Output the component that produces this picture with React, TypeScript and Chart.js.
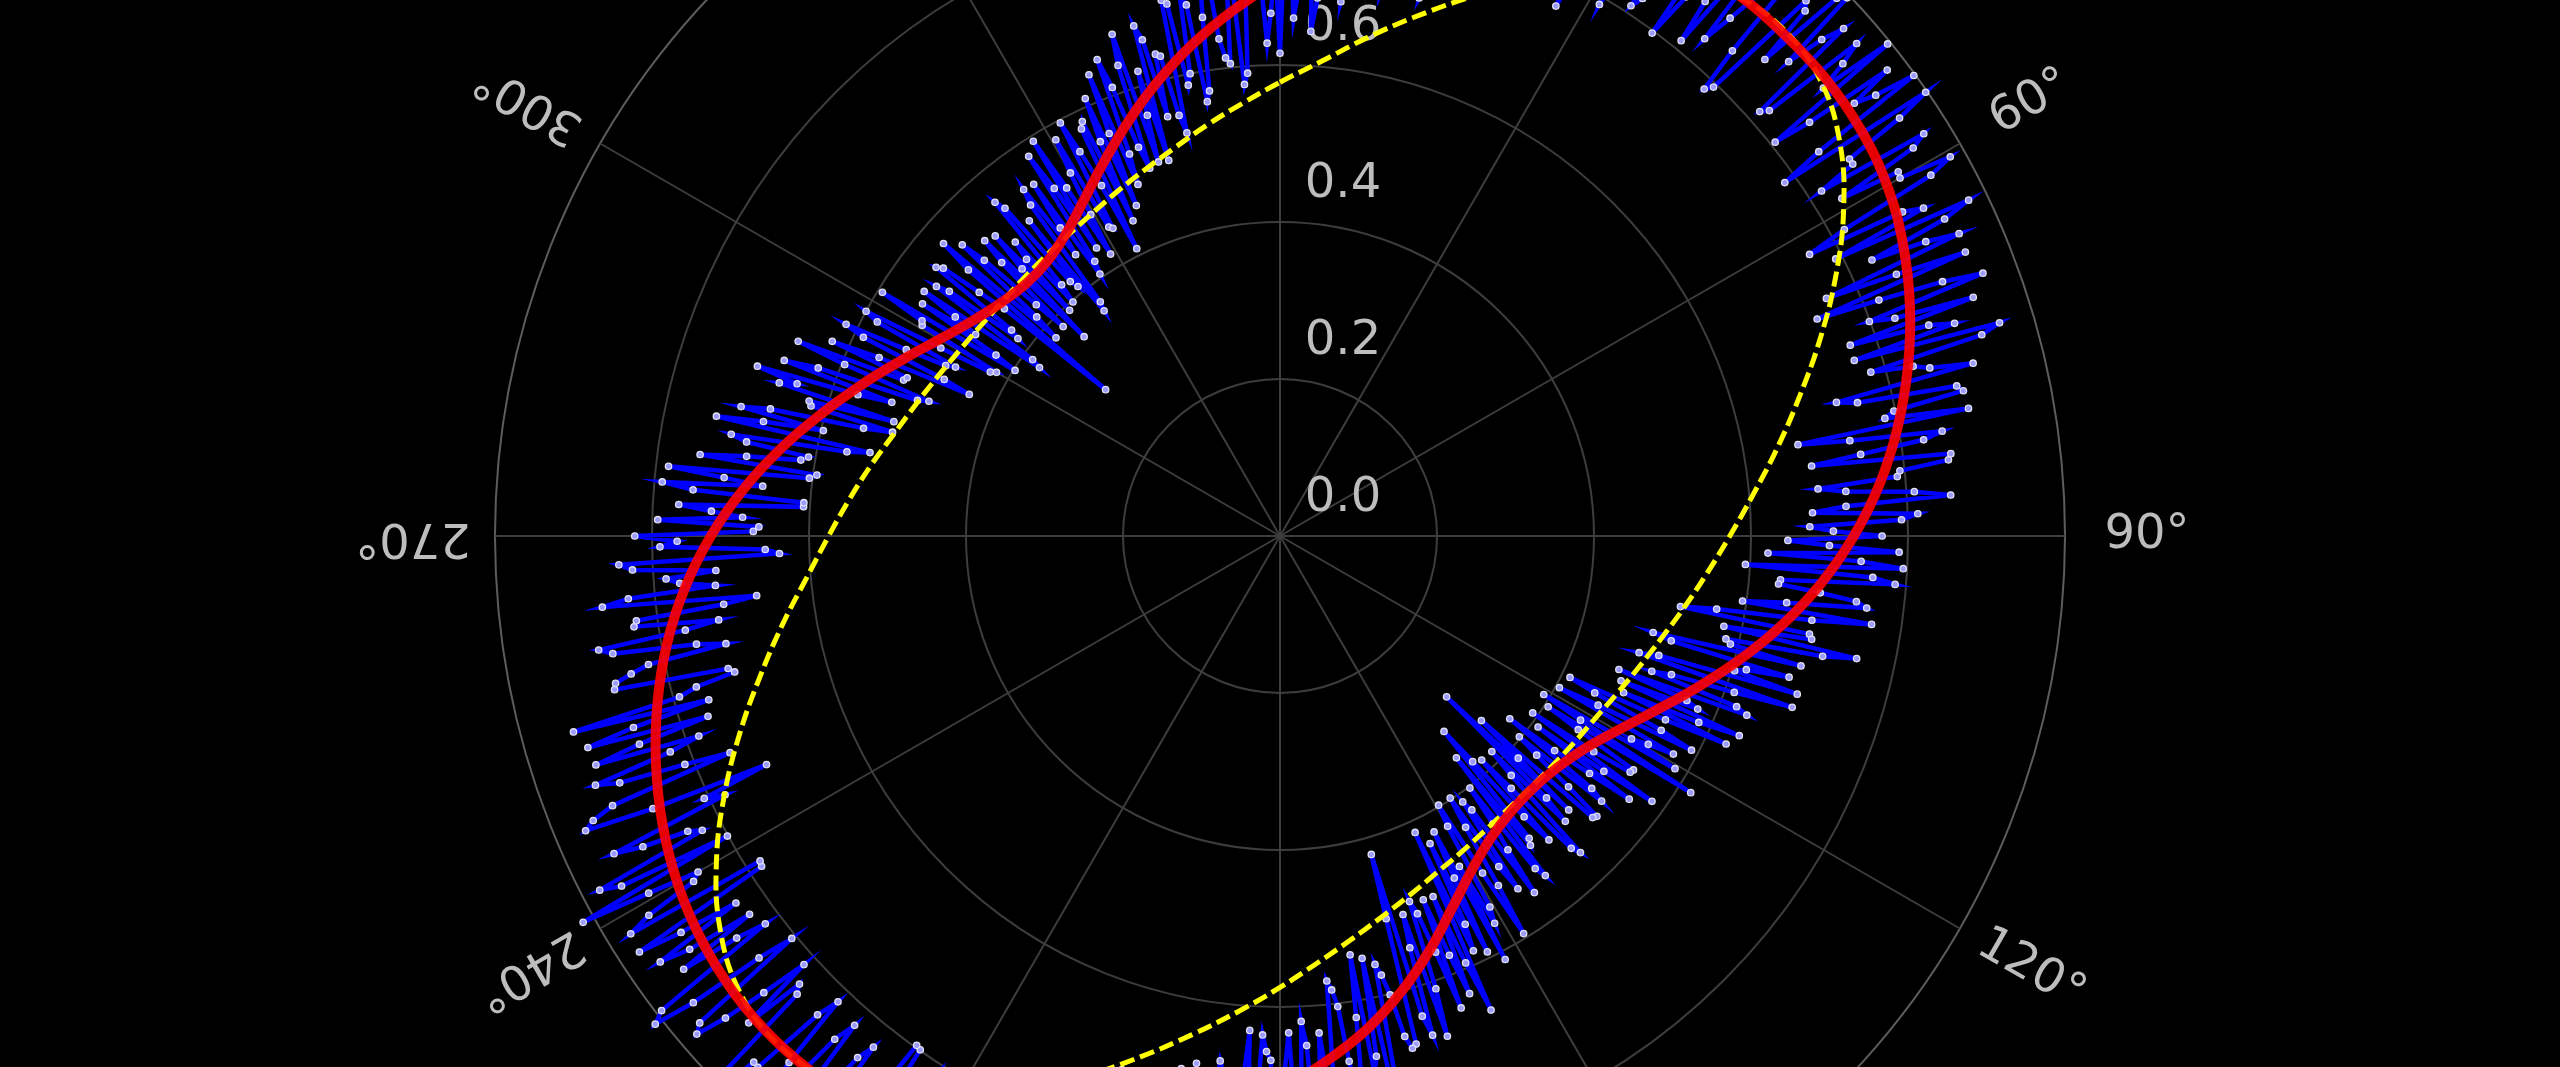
import React, { useEffect, useRef } from "react";
import { Chart, registerables } from "chart.js";

Chart.register(...registerables);

// ---- tick labels ----
const thetaTickValues = [0, 30, 60, 90, 120, 150, 180, 210, 240, 270, 300, 330];
const thetaTickLabels = ["0°", "30°", "60°", "90°", "120°", "150°", "180°", "210°", "240°", "270°", "300°", "330°"];
const radialTickValues = [0.0, 0.2, 0.4, 0.6, 0.8, 1.0];
const radialTickLabels = ["0.0", "0.2", "0.4", "0.6", "0.8", "1.0"];

// ---- angle categories: every half degree, clockwise from north ----
const thetaStepDeg = 0.5;
const thetaDegrees = Array.from({ length: 720 }, (_, i) => i * thetaStepDeg);

// ---- measured noisy radius at whole degrees (0°, 1°, ... 359°) ----
const measuredRWhole = [
  0.615, 0.763, 0.701, 0.819, 0.687, 0.775, 0.852, 0.719, 0.696, 0.843,
  0.82, 0.726, 0.902, 0.788, 0.864, 0.73, 0.836, 0.902, 0.798, 0.734,
  0.91, 0.874, 0.799, 0.953, 0.838, 0.792, 0.915, 0.988, 0.872, 0.835,
  0.968, 0.79, 0.922, 0.944, 0.826, 0.898, 0.999, 0.86, 0.921, 0.812,
  0.973, 0.874, 0.954, 0.845, 0.795, 0.946, 0.986, 0.886, 0.966, 0.826,
  0.936, 0.996, 0.856, 0.916, 0.998, 0.785, 0.952, 0.87, 0.967, 0.835,
  0.912, 0.948, 0.764, 0.92, 0.976, 0.832, 0.947, 0.853, 0.738, 0.904,
  0.799, 0.934, 0.869, 0.765, 0.93, 0.835, 0.91, 0.755, 0.89, 0.785,
  0.67, 0.854, 0.747, 0.861, 0.794, 0.688, 0.81, 0.722, 0.813, 0.675,
  0.767, 0.7, 0.622, 0.795, 0.757, 0.64, 0.692, 0.753, 0.595, 0.686,
  0.518, 0.69, 0.751, 0.583, 0.684, 0.516, 0.618, 0.689, 0.481, 0.612,
  0.504, 0.637, 0.559, 0.472, 0.584, 0.627, 0.411, 0.545, 0.459, 0.573,
  0.517, 0.392, 0.617, 0.453, 0.538, 0.393, 0.51, 0.557, 0.444, 0.511,
  0.398, 0.487, 0.536, 0.415, 0.295, 0.514, 0.424, 0.544, 0.384, 0.474,
  0.325, 0.507, 0.549, 0.402, 0.494, 0.426, 0.542, 0.398, 0.525, 0.501,
  0.427, 0.564, 0.611, 0.489, 0.436, 0.583, 0.661, 0.499, 0.576, 0.644,
  0.512, 0.61, 0.507, 0.665, 0.422, 0.67, 0.657, 0.574, 0.721, 0.548,
  0.695, 0.621, 0.737, 0.604, 0.57, 0.696, 0.753, 0.65, 0.786, 0.633,
  0.74, 0.668, 0.636, 0.794, 0.722, 0.84, 0.687, 0.805, 0.782, 0.68,
  0.857, 0.754, 0.9, 0.747, 0.843, 0.74, 0.876, 0.911, 0.807, 0.732,
  0.908, 0.872, 0.787, 0.951, 0.826, 0.92, 0.783, 0.977, 0.87, 0.924,
  0.807, 0.959, 0.922, 0.834, 0.987, 0.799, 0.92, 0.872, 0.983, 0.855,
  0.966, 0.826, 0.997, 0.917, 0.848, 0.948, 0.997, 0.837, 0.816, 0.936,
  0.965, 0.854, 1.01, 0.821, 0.939, 0.918, 0.836, 0.973, 0.781, 0.938,
  0.856, 1.015, 0.95, 0.826, 0.903, 0.78, 0.716, 0.961, 0.917, 0.812,
  0.928, 0.783, 0.858, 0.922, 0.757, 0.792, 0.716, 0.87, 0.845, 0.719,
  0.863, 0.767, 0.831, 0.714, 0.868, 0.722, 0.784, 0.826, 0.638, 0.79,
  0.822, 0.664, 0.685, 0.767, 0.608, 0.79, 0.712, 0.604, 0.746, 0.618,
  0.69, 0.562, 0.734, 0.597, 0.669, 0.511, 0.624, 0.667, 0.7, 0.523,
  0.626, 0.479, 0.662, 0.516, 0.559, 0.472, 0.615, 0.478, 0.581, 0.494,
  0.417, 0.532, 0.398, 0.543, 0.499, 0.374, 0.541, 0.418, 0.556, 0.493,
  0.29, 0.568, 0.417, 0.515, 0.384, 0.532, 0.473, 0.393, 0.504, 0.424,
  0.545, 0.409, 0.364, 0.528, 0.443, 0.547, 0.422, 0.528, 0.593, 0.419,
  0.534, 0.45, 0.596, 0.501, 0.577, 0.443, 0.61, 0.557, 0.483, 0.65,
  0.527, 0.634, 0.501, 0.619, 0.676, 0.553, 0.63, 0.527, 0.693, 0.6,
  0.687, 0.574, 0.741, 0.638, 0.605, 0.712, 0.591, 0.749, 0.708, 0.666,
];

// ---- measured noisy radius at half degrees (0.5°, 1.5°, ... 359.5°) ----
const measuredRHalf = [
  0.783, 0.66, 0.757, 0.644, 0.841, 0.728, 0.685, 0.812, 0.879, 0.736,
  0.702, 0.849, 0.765, 0.891, 0.708, 0.854, 0.839, 0.765, 0.91, 0.826,
  0.751, 0.896, 0.95, 0.815, 0.87, 0.794, 0.947, 0.761, 0.905, 0.938,
  0.831, 0.974, 0.867, 0.81, 0.953, 0.935, 0.797, 0.968, 0.87, 0.999,
  0.833, 0.924, 0.985, 0.785, 0.956, 0.866, 0.996, 0.936, 0.816, 0.966,
  0.897, 0.806, 0.975, 0.944, 0.843, 0.998, 0.87, 0.818, 0.946, 0.914,
  0.981, 0.818, 0.894, 0.791, 0.938, 0.904, 0.759, 0.945, 0.82, 0.956,
  0.831, 0.766, 0.901, 0.956, 0.781, 0.855, 0.729, 0.883, 0.798, 0.892,
  0.736, 0.829, 0.683, 0.857, 0.79, 0.723, 0.856, 0.679, 0.792, 0.705,
  0.647, 0.789, 0.741, 0.594, 0.786, 0.638, 0.739, 0.651, 0.762, 0.564,
  0.686, 0.577, 0.708, 0.59, 0.491, 0.673, 0.604, 0.506, 0.688, 0.529,
  0.621, 0.464, 0.576, 0.638, 0.481, 0.544, 0.448, 0.591, 0.405, 0.539,
  0.584, 0.449, 0.405, 0.54, 0.485, 0.582, 0.409, 0.497, 0.374, 0.531,
  0.43, 0.539, 0.348, 0.507, 0.476, 0.385, 0.556, 0.436, 0.517, 0.378,
  0.499, 0.361, 0.534, 0.456, 0.558, 0.411, 0.505, 0.44, 0.594, 0.398,
  0.543, 0.479, 0.425, 0.592, 0.548, 0.415, 0.593, 0.631, 0.498, 0.566,
  0.494, 0.672, 0.55, 0.638, 0.506, 0.674, 0.601, 0.559, 0.707, 0.674,
  0.541, 0.708, 0.675, 0.582, 0.759, 0.635, 0.792, 0.619, 0.726, 0.683,
  0.79, 0.657, 0.764, 0.631, 0.808, 0.756, 0.673, 0.86, 0.737, 0.824,
  0.69, 0.847, 0.783, 0.89, 0.747, 0.843, 0.709, 0.894, 0.85, 0.786,
  0.941, 0.776, 0.891, 0.836, 0.941, 0.775, 0.919, 0.983, 0.816, 0.89,
  0.843, 0.976, 0.809, 0.922, 0.955, 0.797, 0.969, 0.891, 0.832, 0.998,
  0.925, 0.856, 0.987, 0.818, 0.949, 1.02, 0.848, 0.918, 0.878, 0.977,
  0.806, 0.955, 0.993, 0.861, 0.83, 0.958, 0.915, 0.783, 0.97, 0.867,
  0.924, 0.801, 0.977, 0.843, 0.94, 0.806, 0.871, 0.947, 0.753, 0.898,
  0.824, 0.919, 0.764, 0.859, 0.934, 0.768, 0.723, 0.867, 0.821, 0.756,
  0.88, 0.723, 0.827, 0.671, 0.834, 0.767, 0.72, 0.843, 0.656, 0.768,
  0.671, 0.793, 0.725, 0.608, 0.75, 0.662, 0.784, 0.595, 0.687, 0.609,
  0.711, 0.533, 0.674, 0.706, 0.548, 0.62, 0.513, 0.645, 0.567, 0.67,
  0.493, 0.596, 0.519, 0.622, 0.435, 0.588, 0.532, 0.466, 0.6, 0.424,
  0.529, 0.594, 0.429, 0.465, 0.55, 0.387, 0.524, 0.431, 0.548, 0.455,
  0.522, 0.381, 0.549, 0.428, 0.497, 0.356, 0.527, 0.478, 0.398, 0.559,
  0.42, 0.513, 0.376, 0.549, 0.482, 0.405, 0.58, 0.435, 0.52, 0.475,
  0.58, 0.446, 0.552, 0.409, 0.585, 0.552, 0.459, 0.636, 0.523, 0.61,
  0.497, 0.674, 0.562, 0.499, 0.656, 0.634, 0.551, 0.699, 0.586, 0.703,
  0.561, 0.668, 0.745, 0.613, 0.71, 0.577, 0.744, 0.701, 0.628, 0.736,
];

// ---- fitted curves, sampled every 5 degrees ----
const fitStepDeg = 5;
const smoothFitR = [
  0.709, 0.745, 0.779, 0.811, 0.839, 0.862, 0.88, 0.894, 0.903, 0.906,
  0.907, 0.903, 0.893, 0.876, 0.854, 0.828, 0.799, 0.767, 0.731, 0.692,
  0.65, 0.607, 0.565, 0.527, 0.496, 0.473, 0.46, 0.455, 0.458, 0.469,
  0.49, 0.521, 0.56, 0.6, 0.638, 0.672, 0.706, 0.742, 0.777, 0.81,
  0.839, 0.863, 0.882, 0.896, 0.905, 0.909, 0.907, 0.899, 0.886, 0.868,
  0.846, 0.821, 0.793, 0.761, 0.725, 0.686, 0.645, 0.604, 0.566, 0.531,
  0.501, 0.478, 0.463, 0.456, 0.459, 0.473, 0.497, 0.528, 0.563, 0.6,
  0.637, 0.673,
];
const ellipseFitR = [
  0.578, 0.607, 0.645, 0.687, 0.733, 0.782, 0.829, 0.871, 0.9, 0.91,
  0.9, 0.871, 0.829, 0.781, 0.732, 0.685, 0.643, 0.605, 0.573, 0.546,
  0.523, 0.503, 0.487, 0.474, 0.464, 0.458, 0.454, 0.452, 0.453, 0.457,
  0.464, 0.473, 0.486, 0.502, 0.522, 0.546, 0.575, 0.608, 0.645, 0.687,
  0.733, 0.782, 0.829, 0.871, 0.9, 0.91, 0.9, 0.871, 0.829, 0.781,
  0.732, 0.685, 0.643, 0.605, 0.575, 0.55, 0.528, 0.508, 0.493, 0.481,
  0.472, 0.466, 0.463, 0.463, 0.465, 0.469, 0.476, 0.486, 0.498, 0.513,
  0.532, 0.553,
];

const TEXT_COLOR = "#bdbdbd";
const GRID_COLOR = "#3d3d3d";
const SPINE_COLOR = "#5c5c5c";
const FONT = '48px "DejaVu Sans"';

const perFit = fitStepDeg / thetaStepDeg;
const perDeg = 1 / thetaStepDeg;
const onThetaGrid = (fit: number[]) =>
  thetaDegrees.map((_, i) => (i % perFit === 0 ? fit[i / perFit] : null));
const measuredR = thetaDegrees.map((_, i) =>
  i % 2 === 0 ? measuredRWhole[i / 2] : measuredRHalf[(i - 1) / 2]
);

const polarText = {
  id: "polarText",
  beforeDatasetsDraw(chart: any) {
    const s = chart.scales.r;
    const ctx = chart.ctx as CanvasRenderingContext2D;
    ctx.save();
    ctx.fillStyle = TEXT_COLOR;
    ctx.font = FONT;
    ctx.textAlign = "center";
    ctx.textBaseline = "middle";
    radialTickValues.forEach((v, i) => {
      const d = s.getDistanceFromCenterForValue(v);
      ctx.fillText(radialTickLabels[i], s.xCenter + 63, s.yCenter - d - 37);
    });
    thetaTickValues.forEach((deg, i) => {
      const p = s.getPointPosition(deg * perDeg, s.drawingArea + 82);
      ctx.save();
      ctx.translate(p.x, p.y);
      ctx.rotate(((deg - 90) * Math.PI) / 180);
      ctx.fillText(thetaTickLabels[i], 0, 0);
      ctx.restore();
    });
    ctx.restore();
  },
};

export default function App() {
  const ref = useRef<HTMLCanvasElement | null>(null);

  useEffect(() => {
    const canvas = ref.current;
    if (!canvas) return;
    const chart = new Chart(canvas, {
      type: "radar",
      data: {
        labels: thetaDegrees.map((d) => `${d}°`),
        datasets: [
          {
            label: "fit",
            data: onThetaGrid(smoothFitR),
            borderColor: "rgba(255,0,0,0.9)",
            borderWidth: 10,
            tension: 0.4,
            spanGaps: true,
            fill: false,
            pointRadius: 0,
            order: 1,
          },
          {
            label: "ellipse",
            data: onThetaGrid(ellipseFitR),
            borderColor: "#ffff00",
            borderWidth: 5,
            borderDash: [15, 6],
            tension: 0.4,
            spanGaps: true,
            fill: false,
            pointRadius: 0,
            order: 2,
          },
          {
            label: "data",
            data: measuredR,
            borderColor: "#0000ff",
            borderWidth: 4.5,
            tension: 0,
            fill: false,
            pointRadius: 3.2,
            pointBackgroundColor: "#9c9cff",
            pointBorderColor: "#e2e2f4",
            pointBorderWidth: 1.3,
            order: 3,
          },
        ],
      },
      options: {
        responsive: false,
        animation: false,
        devicePixelRatio: 1,
        events: [],
        layout: { padding: 0 },
        plugins: {
          legend: { display: false },
          tooltip: { enabled: false },
        },
        scales: {
          r: {
            min: 0,
            max: 1,
            startAngle: 0,
            ticks: { display: false, stepSize: 0.2 },
            pointLabels: { display: false },
            grid: {
              circular: true,
              color: (c: any) => (c.index === radialTickValues.length - 1 ? SPINE_COLOR : GRID_COLOR),
              lineWidth: 2,
            },
            angleLines: {
              display: true,
              color: GRID_COLOR,
              lineWidth: (c: any) => (c.index % (30 * perDeg) === 0 ? 2 : 0),
            },
          },
        },
      },
      plugins: [polarText],
    } as any);
    return () => chart.destroy();
  }, []);

  return (
    <div
      style={{
        position: "fixed",
        left: 0,
        top: 0,
        width: 2560,
        height: 1067,
        overflow: "hidden",
        background: "#000",
      }}
    >
      <canvas
        ref={ref}
        width={2560}
        height={1570}
        style={{ position: "absolute", left: 0, top: -249, width: 2560, height: 1570 }}
      />
    </div>
  );
}
